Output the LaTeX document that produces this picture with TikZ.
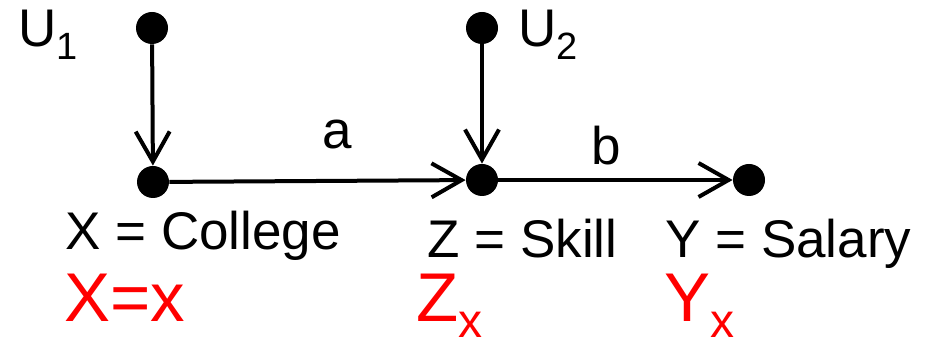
\documentclass[tikz,border=0pt]{standalone}
\usepackage{fontspec}
\setmainfont{Liberation Sans}
\usetikzlibrary{arrows.meta,positioning}
\newcommand{\lowsub}[1]{\raisebox{-6.5pt}{\fontsize{19}{20}\selectfont #1}}
\newcommand{\redsub}[1]{\raisebox{-8pt}{\fontsize{24}{26}\selectfont #1}}

\begin{document}
\begin{tikzpicture}[x=0.5pt,y=-0.5pt,>={Straight Barb[length=15pt,width=17pt]},
  dot/.style={circle,fill=black,inner sep=0pt,minimum size=16pt},
  lbl/.style={inner sep=0pt,anchor=base west,font=\fontsize{26.5}{30}\selectfont},
  redlbl/.style={inner sep=0pt,anchor=base west,text=red,font=\fontsize{34.5}{40}\selectfont}]
  \useasboundingbox (0,0) rectangle (933,340);
  % dots
  \node[dot] (U1) at (152,28) {};
  \node[dot] (X) at (153,182) {};
  \node[dot] (U2) at (482,28) {};
  \node[dot] (Z) at (482,180) {};
  \node[dot] (Y) at (749,180) {};
  % labels
  \node[lbl] (u1lab) at (18,47) {U\lowsub{1}};
  \node[lbl] (u2lab) at (518,47) {U\lowsub{2}};
  \node[lbl] (xlab) at (65,250) {X = College};
  \node[lbl] (zlab) at (427,258) {Z = Skill};
  \node[lbl] (ylab) at (665,258) {Y = Salary};
  \node[redlbl] (xred) at (64,322) {X=x};
  \node[redlbl] (zred) at (416,322) {Z\redsub{x}};
  \node[redlbl] (yred) at (664,322) {Y\redsub{x}};
  % edges
  \draw[->,line width=2pt] (U1) -- (X);
  \draw[->,line width=2pt] (U2) -- (Z);
  \draw[->,line width=2pt] (X) -- node[pos=0.565,above=15pt,inner sep=0pt,font=\fontsize{26.5}{30}\selectfont]{a} (Z);
  \draw[->,line width=2pt] (Z) -- node[pos=0.46,above=6.5pt,inner sep=0pt,font=\fontsize{26.5}{30}\selectfont]{b} (Y);
\end{tikzpicture}
\end{document}
